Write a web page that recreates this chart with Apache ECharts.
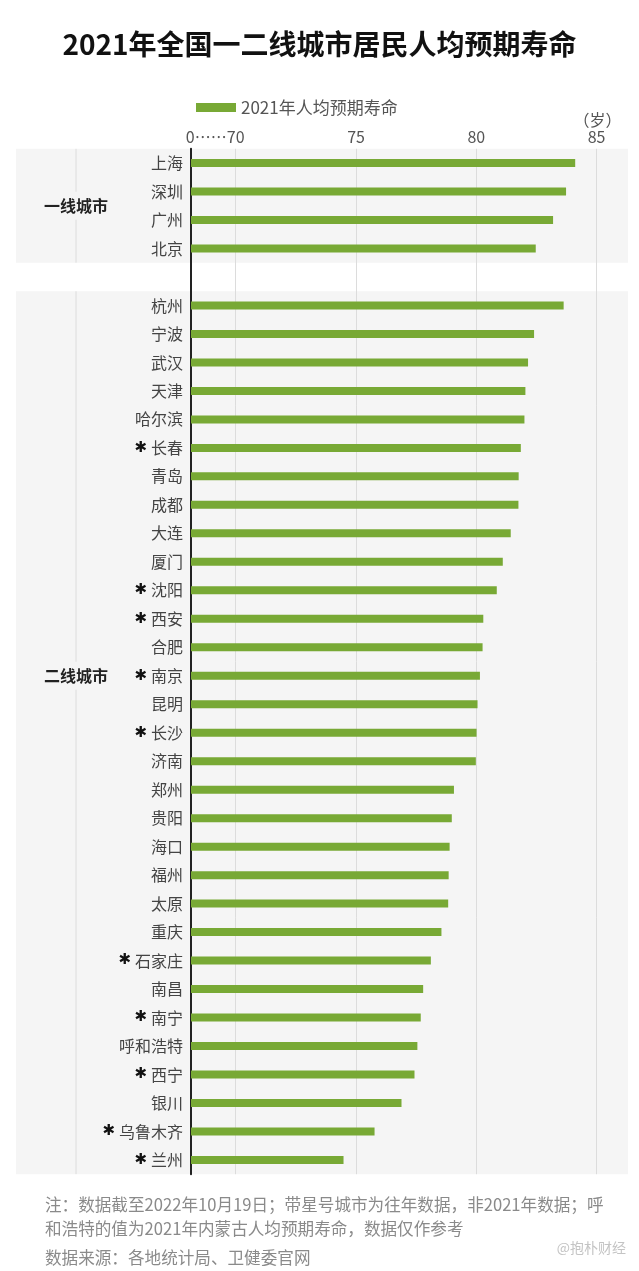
<!DOCTYPE html>
<html><head><meta charset="utf-8">
<script src="https://cdn.jsdelivr.net/npm/echarts@6/dist/echarts.min.js"></script>
<style>html,body{margin:0;padding:0;background:#fff}#c{width:639px;height:1271px}</style>
</head><body><div id="c"></div>
<script>
const FONT = "'Noto Sans CJK SC', 'Noto Sans', sans-serif";
const categories = ['上海','深圳','广州','北京',' ',
  '杭州','宁波','武汉','天津','哈尔滨','长春','青岛','成都','大连','厦门','沈阳','西安','合肥','南京','昆明','长沙','济南',
  '郑州','贵阳','海口','福州','太原','重庆','石家庄','南昌','南宁','呼和浩特','西宁','银川','乌鲁木齐','兰州'];
const values = [84.11,83.73,83.19,82.47,null,
  83.63,82.40,82.15,82.04,82.00,81.85,81.76,81.75,81.43,81.10,80.85,80.29,80.26,80.15,80.05,80.01,79.98,
  79.07,78.98,78.89,78.85,78.83,78.55,78.11,77.79,77.69,77.55,77.43,76.89,75.77,74.48];
const starred = ['长春','沈阳','西安','南京','长沙','石家庄','南宁','西宁','乌鲁木齐','兰州'];
const tickValues = [70,75,80,85];
const groups = [{name:'一线城市', from:'上海', to:'北京', labelAt:'上海', mid:true},
                {name:'二线城市', from:'杭州', to:'兰州', labelAt:'南京', mid:false}];
const seriesName = '2021年人均预期寿命';

const chart = echarts.init(document.getElementById('c'), null, {renderer:'canvas'});
const option = {
  backgroundColor:'#fff',
  textStyle:{fontFamily:FONT},
  title:{text:'2021年全国一二线城市居民人均预期寿命', left:'center', top:25,
    textStyle:{fontSize:28, fontWeight:'bold', color:'#111', fontFamily:FONT}},
  legend:{data:[seriesName], left:191, top:94, itemWidth:40, itemHeight:9, icon:'rect',
    textStyle:{fontSize:17, color:'#555', fontFamily:FONT}},
  grid:{left:191, right:6.3, top:148.8, bottom:96.8, containLabel:false, outerBoundsMode:'none'},
  xAxis:{type:'value', position:'top', min:68.14, max:86.5,
    axisLine:{show:false}, axisTick:{show:false, customValues:tickValues},
    axisLabel:{customValues:tickValues, margin:4, fontSize:16, color:'#555', fontFamily:FONT},
    splitLine:{show:true, lineStyle:{color:'#dcdcdc', width:1}}},
  yAxis:{type:'category', inverse:true, data:categories,
    axisLine:{show:true, lineStyle:{color:'#222', width:2}}, axisTick:{show:false},
    axisLabel:{margin:8, interval:0,
      formatter:(v)=> starred.includes(v) ? '{s|✱}{n|'+v+'}' : '{n|'+v+'}',
      rich:{s:{fontSize:15, color:'#111', padding:[0,4,0,0], fontFamily:'DejaVu Sans'},
            n:{fontSize:16, color:'#444', fontFamily:FONT}}}},
  series:[{name:seriesName, type:'bar', data:values, barWidth:8, itemStyle:{color:'#78a935'}, z:3}]
};
chart.setOption(option);

function drawExtras(){
  const yOf = (c)=> chart.convertToPixel({yAxisIndex:0}, c);
  const xOf = (v)=> chart.convertToPixel({xAxisIndex:0}, v);
  const half = 14.2;
  const g = [];
  groups.forEach(gr=>{
    const y1 = yOf(gr.from) - half, y2 = yOf(gr.to) + half;
    g.push({type:'rect', z:-10, silent:true, shape:{x:16, y:y1, width:612, height:y2-y1}, style:{fill:'#f5f5f5'}});
    g.push({type:'line', z:-9, silent:true, shape:{x1:76, y1:y1, x2:76, y2:y2}, style:{stroke:'#dcdcdc', lineWidth:1}});
    const ly = gr.mid ? (y1+y2)/2 : yOf(gr.labelAt);
    g.push({type:'text', z:5, x:76, y:ly, style:{text:gr.name, align:'center', verticalAlign:'middle',
      font:'bold 16px '+FONT, fill:'#222', backgroundColor:'#f5f5f5', padding:[6,2,6,2]}});
  });
  g.push({type:'text', z:5, x:xOf(70)-9, y:137, style:{text:'0……', align:'right', verticalAlign:'middle', font:'16px '+FONT, fill:'#555'}});
  g.push({type:'text', z:5, x:xOf(85)+1, y:120, style:{text:'（岁）', align:'center', verticalAlign:'middle', font:'16px '+FONT, fill:'#555'}});
  const foot = ['注：数据截至2022年10月19日；带星号城市为往年数据，非2021年数据；呼',
                '和浩特的值为2021年内蒙古人均预期寿命，数据仅作参考',
                '数据来源：各地统计局、卫健委官网'];
  const fy = [1205, 1229, 1258];
  foot.forEach((t,i)=> g.push({type:'text', x:45, y:fy[i], style:{text:t, verticalAlign:'middle', font:'16.6px '+FONT, fill:'#8a8a8a'}}));
  g.push({type:'text', x:626, y:1248, style:{text:'@抱朴财经', align:'right', verticalAlign:'middle', font:'14px '+FONT, fill:'#c4c4c4'}});
  chart.setOption({graphic:{elements:g}});
}
drawExtras();
</script></body></html>
